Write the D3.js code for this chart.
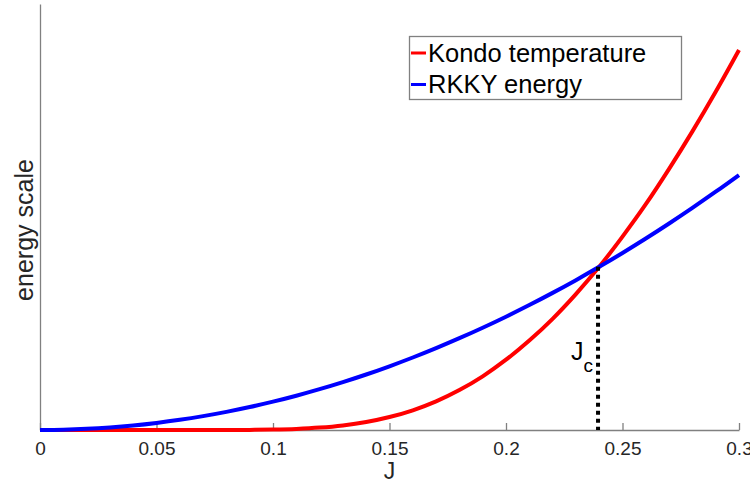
<!DOCTYPE html>
<html>
<head>
<meta charset="utf-8">
<script src="https://cdn.jsdelivr.net/npm/d3@7"></script>
<style>
  html, body { margin: 0; padding: 0; background: #fff; }
  svg { display: block; font-family: "Liberation Sans", Arial, Helvetica, sans-serif; }
</style>
</head>
<body>
<svg id="chart" width="750" height="485"></svg>
<script>
// Coupling J sampled every 0.01
const couplings = d3.range(0, 31).map(i => +(i * 0.01).toFixed(2));

// Kondo temperature (arbitrary units), essentially zero below J ≈ 0.09
const kondoTemperature = [
  0, 0, 0, 0, 0, 0, 0, 0, 0, 0.0002,
  0.001, 0.0026, 0.0056, 0.0107, 0.0187, 0.0304, 0.0463, 0.0673, 0.0938, 0.126,
  0.165, 0.210, 0.261, 0.319, 0.383, 0.454, 0.530, 0.613, 0.701, 0.794,
  0.892
];

// RKKY energy (same arbitrary units)
const rkkyEnergy = [
  0, 0.0007, 0.0027, 0.006, 0.0106, 0.0166, 0.0239, 0.0326, 0.0426, 0.0539,
  0.0665, 0.0805, 0.0958, 0.1124, 0.1303, 0.1496, 0.1702, 0.1922, 0.2155, 0.2401,
  0.266, 0.2933, 0.3219, 0.3518, 0.383, 0.4156, 0.4495, 0.4848, 0.5214, 0.5593,
  0.5985
];

const xTicks = [0, 0.05, 0.1, 0.15, 0.2, 0.25, 0.3];
const xTickLabels = ["0", "0.05", "0.1", "0.15", "0.2", "0.25", "0.3"];

const seriesNames = ["Kondo temperature", "RKKY energy"];
const seriesColors = ["#ff0000", "#0000ff"];

// Critical coupling where the two scales cross
const criticalJ = 0.2395;
const criticalEnergy = 0.383;

const svg = d3.select("#chart");
const plotLeft = 40, plotRight = 739, plotTop = 4, plotBottom = 430;

const x = d3.scaleLinear().domain([0, 0.3]).range([plotLeft, plotRight]);
const y = d3.scaleLinear().domain([0, 1]).range([plotBottom, plotTop]);

const axisColor = "#808080";
const textColor = "#262626";

// Bottom axis with inward ticks
const xAxis = d3.axisBottom(x)
  .tickValues(xTicks)
  .tickFormat((d, i) => xTickLabels[i])
  .tickSizeInner(-7)
  .tickSizeOuter(0)
  .tickPadding(0);

const gx = svg.append("g")
  .attr("transform", `translate(0,${plotBottom})`)
  .call(xAxis);
gx.select(".domain").attr("stroke", axisColor).attr("stroke-width", 1.3);
gx.selectAll(".tick line").attr("stroke", axisColor).attr("stroke-width", 1.3);
gx.selectAll(".tick text")
  .attr("fill", textColor)
  .attr("font-size", 19)
  .attr("font-family", "Liberation Sans, Arial, sans-serif")
  .attr("dy", null)
  .attr("y", 25);

// Left axis: a bare spine, no ticks
const yAxis = d3.axisLeft(y).tickValues([]).tickSizeOuter(0);
const gy = svg.append("g")
  .attr("transform", `translate(${plotLeft},0)`)
  .call(yAxis);
gy.select(".domain").attr("stroke", axisColor).attr("stroke-width", 1.3);

// Axis titles
svg.append("text")
  .attr("x", (plotLeft + plotRight) / 2)
  .attr("y", 479)
  .attr("text-anchor", "middle")
  .attr("fill", textColor)
  .attr("font-size", 23)
  .text("J");

svg.append("text")
  .attr("transform", `translate(33,230) rotate(-90)`)
  .attr("text-anchor", "middle")
  .attr("fill", textColor)
  .attr("font-size", 25)
  .text("energy scale");

// Curves
const line = d3.line()
  .x((d, i) => x(couplings[i]))
  .y(d => y(d))
  .curve(d3.curveMonotoneX);

[kondoTemperature, rkkyEnergy].forEach((vals, k) => {
  svg.append("path")
    .datum(vals)
    .attr("fill", "none")
    .attr("stroke", seriesColors[k])
    .attr("stroke-width", 4)
    .attr("stroke-linejoin", "round")
    .attr("d", line);
});

// Dotted marker at the crossing
svg.append("line")
  .attr("x1", x(criticalJ)).attr("x2", x(criticalJ))
  .attr("y1", y(criticalEnergy)).attr("y2", y(0))
  .attr("stroke", "#000")
  .attr("stroke-width", 4)
  .attr("stroke-dasharray", "4,4");

const jc = svg.append("text")
  .attr("x", 571)
  .attr("y", 360)
  .attr("fill", "#000")
  .attr("font-size", 25);
jc.append("tspan").text("J");
jc.append("tspan").attr("font-size", 19).attr("dy", 12).text("c");

// Legend
const legend = svg.append("g");
legend.append("rect")
  .attr("x", 409.5).attr("y", 36.5)
  .attr("width", 272).attr("height", 63)
  .attr("fill", "#fff")
  .attr("stroke", axisColor)
  .attr("stroke-width", 1.3);

seriesNames.forEach((name, k) => {
  const cy = 53 + k * 31.5;
  legend.append("line")
    .attr("x1", 411).attr("x2", 426)
    .attr("y1", cy).attr("y2", cy)
    .attr("stroke", seriesColors[k])
    .attr("stroke-width", 3);
  legend.append("text")
    .attr("x", 428)
    .attr("y", cy + 8.5)
    .attr("fill", "#000")
    .attr("font-size", 25.5)
    .text(name);
});
</script>
</body>
</html>
